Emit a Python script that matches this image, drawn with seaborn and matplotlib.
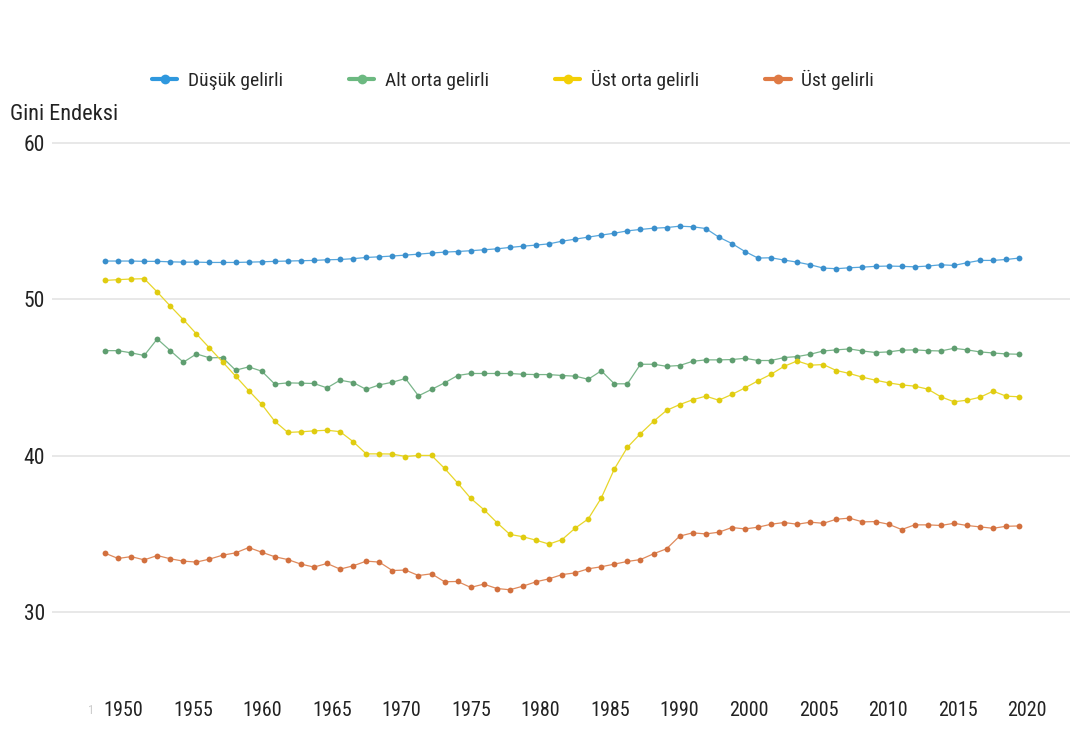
import numpy as np
import pandas as pd
import matplotlib
matplotlib.use("Agg")
import matplotlib.pyplot as plt
from matplotlib import font_manager
import seaborn as sns

years = list(range(1950, 2021))

dusuk = [52.45, 52.45, 52.45, 52.43, 52.43, 52.40, 52.38, 52.38, 52.36, 52.36,
         52.36, 52.38, 52.40, 52.43, 52.45, 52.47, 52.49, 52.53, 52.55, 52.60,
         52.68, 52.72, 52.77, 52.83, 52.89, 52.96, 53.02, 53.06, 53.11, 53.17,
         53.23, 53.32, 53.40, 53.47, 53.55,
         53.72, 53.85, 53.98, 54.11, 54.23, 54.38, 54.47, 54.55, 54.59, 54.68,
         54.64, 54.53, 53.98, 53.57, 53.06, 52.64, 52.66, 52.51, 52.38, 52.21,
         52.00, 51.96, 52.02, 52.06, 52.11, 52.13, 52.11, 52.08, 52.13, 52.21,
         52.17, 52.34, 52.49, 52.49, 52.55, 52.64]

alt_orta = [46.72, 46.72, 46.58, 46.41, 47.47, 46.72, 45.98, 46.51, 46.26, 46.28,
            45.47, 45.68, 45.41, 44.58, 44.66, 44.64, 44.62, 44.34, 44.83, 44.68,
            44.24, 44.53, 44.70, 44.94, 43.83, 44.24, 44.66, 45.13, 45.26, 45.26,
            45.26, 45.26, 45.21, 45.19, 45.19, 45.13, 45.09,
            44.89, 45.43, 44.60, 44.60, 45.85, 45.85, 45.72, 45.77, 46.04, 46.13,
            46.13, 46.15, 46.23, 46.09, 46.09, 46.28, 46.34, 46.49, 46.70, 46.77,
            46.83, 46.70, 46.60, 46.64, 46.75, 46.77, 46.72, 46.70, 46.87, 46.77,
            46.64, 46.57, 46.51, 46.49]

ust_orta = [51.21, 51.26, 51.30, 51.32, 50.47, 49.57, 48.70, 47.79, 46.89, 46.00,
            45.09, 44.17, 43.29, 42.20, 41.49, 41.53, 41.59, 41.63, 41.54, 40.90,
            40.12, 40.12, 40.11, 39.95, 40.02, 40.02, 39.19, 38.26, 37.28, 36.56,
            35.73, 34.97, 34.82, 34.60, 34.35, 34.64, 35.37, 35.96, 37.30, 39.15,
            40.54, 41.41, 42.20, 42.90, 43.27, 43.58, 43.81, 43.55, 43.92, 44.34,
            44.79, 45.21, 45.72, 46.06, 45.79, 45.83, 45.45, 45.26, 45.02, 44.83,
            44.66, 44.53, 44.45, 44.26, 43.77, 43.45, 43.55, 43.74, 44.13, 43.81,
            43.77]

ust = [33.77, 33.43, 33.55, 33.34, 33.62, 33.41, 33.26, 33.20, 33.39, 33.64,
       33.79, 34.13, 33.83, 33.54, 33.36, 33.07, 32.88, 33.11, 32.75, 32.96,
       33.26, 33.20, 32.66, 32.69, 32.34, 32.45, 31.94, 31.96, 31.58, 31.79,
       31.51, 31.43, 31.66, 31.94, 32.13, 32.40, 32.51, 32.77, 32.90, 33.07,
       33.24, 33.36, 33.73, 34.05, 34.86, 35.07, 35.00, 35.11, 35.41, 35.32,
       35.43, 35.62, 35.73, 35.62, 35.75, 35.68, 35.94, 36.01, 35.77, 35.79,
       35.62, 35.28, 35.58, 35.58, 35.54, 35.68, 35.54, 35.45, 35.36, 35.49,
       35.51]

series_names = ["Düşük gelirli", "Alt orta gelirli", "Üst orta gelirli", "Üst gelirli"]
series_values = [dusuk, alt_orta, ust_orta, ust]
line_colors = ["#56a6dc", "#7ab58a", "#e8d62a", "#df8a5c"]
marker_colors = ["#3a8fcc", "#5f9e70", "#e0cc10", "#d2703e"]
legend_colors = ["#2f98de", "#6cb981", "#f3cf05", "#df7a44"]

tick_labels = ["1950", "1955", "1960", "1965", "1970", "1975", "1980", "1985",
               "1990", "2000", "2005", "2010", "2015", "2020"]
y_ticks = [30, 40, 50, 60]

df = pd.DataFrame({"Yıl": years})
for name, vals in zip(series_names, series_values):
    df[name] = vals
long_df = df.melt(id_vars="Yıl", var_name="Grup", value_name="Gini")

sns.set_theme(style="white")

# pick a narrow font if one is installed
fonts = font_manager.fontManager.ttflist
names = {f.name for f in fonts}
family, stretch, scale = "Roboto", "normal", 0.9
narrow_named = ["Liberation Sans Narrow", "Roboto Condensed", "Open Sans Condensed",
                "Noto Sans Condensed", "DejaVu Sans Condensed"]
found = False
for n in narrow_named:
    if n in names:
        family, stretch, scale = n, "normal", 1.0
        found = True
        break
if not found:
    for n in ["Noto Sans", "Open Sans", "DejaVu Sans"]:
        cond = [f for f in fonts if f.name == n and
                f.stretch in ("condensed", "semi-condensed", "extra-condensed", 75, 87, 62)]
        if cond:
            family, stretch, scale = n, "condensed", 0.95
            found = True
            break
plt.rcParams["font.family"] = [family, "DejaVu Sans"]
plt.rcParams["font.stretch"] = stretch

fig = plt.figure(figsize=(10.72, 7.35), dpi=100)
fig.patch.set_facecolor("white")
ax = fig.add_axes([52 / 1072, 45 / 735, (1070 - 52) / 1072, 550 / 735])

for name, lc, mc in zip(series_names, line_colors, marker_colors):
    sub = long_df[long_df["Grup"] == name]
    sns.lineplot(data=sub, x="Yıl", y="Gini", ax=ax, color=lc, linewidth=0.9,
                 marker="o", markersize=4.2, markeredgewidth=0,
                 markerfacecolor=mc, label=name, zorder=3)

ax.set_xlim(1945.94, 2023.89)
ax.set_ylim(25.02, 60.19)
ax.set_yticks(y_ticks)
ax.set_yticklabels([str(v) for v in y_ticks], fontsize=15.5 * scale, color="#222222")
xt = np.linspace(1951.42, 2020.60, len(tick_labels))
ax.set_xticks(xt)
ax.set_xticklabels(tick_labels, fontsize=14.5 * scale, color="#222222")
ax.tick_params(axis="both", length=0)
ax.tick_params(axis="x", pad=8)
ax.tick_params(axis="y", pad=5)
ax.grid(axis="y", color="#e6e6e6", linewidth=1.3)
ax.grid(axis="x", visible=False)
ax.set_axisbelow(True)
for s in ax.spines.values():
    s.set_visible(False)
ax.set_xlabel("")
ax.set_ylabel("")

# faint clipped label at left of the axis
ax.text(1948.9, -0.026, "1", transform=ax.get_xaxis_transform(), ha="center",
        va="top", fontsize=9, color="#cccccc")

handles, labels = ax.get_legend_handles_labels()
ax.get_legend().remove()
leg = fig.legend(handles, labels, loc="center", ncol=4,
                 bbox_to_anchor=(513 / 1072, 1 - 80 / 735), frameon=False,
                 fontsize=14 * scale, handlelength=1.3, handletextpad=0.55,
                 columnspacing=3.4)
for h, c in zip(leg.legend_handles, legend_colors):
    h.set_linewidth(3)
    h.set_markersize(7)
    h.set_color(c)
    h.set_markerfacecolor(c)

fig.text(10 / 1072, 1 - 115 / 735, "Gini Endeksi", ha="left", va="center",
         fontsize=16 * scale, color="#222222")

fig.savefig("out.png", dpi=100, facecolor="white")
